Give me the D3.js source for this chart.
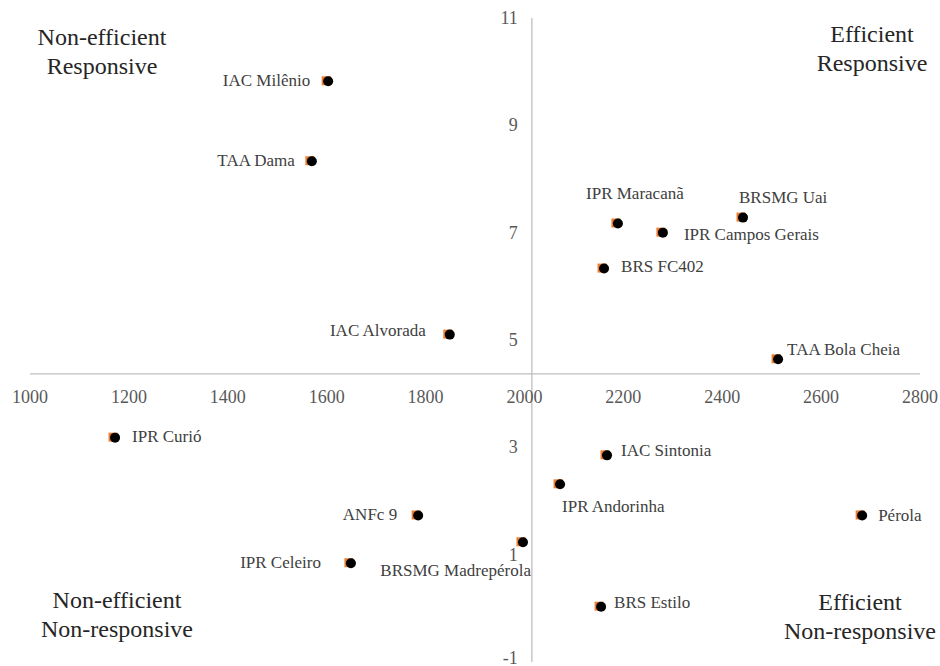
<!DOCTYPE html>
<html>
<head>
<meta charset="utf-8">
<script src="https://cdn.jsdelivr.net/npm/d3@7"></script>
<style>
  body { margin: 0; background: #fff; }
  .tick-label { font-size: 18px; fill: #595959; }
  .point-label { font-size: 17px; fill: #404040; }
  .quadrant { font-size: 24px; fill: #262626; }
</style>
</head>
<body>
<div id="chart"></div>
<script>
// cultivars, productivity (x) and response index (y)
const names = ["IAC Milênio", "TAA Dama", "IPR Maracanã", "BRSMG Uai", "IPR Campos Gerais",
  "BRS FC402", "IAC Alvorada", "TAA Bola Cheia", "IPR Curió", "IAC Sintonia",
  "IPR Andorinha", "ANFc 9", "Pérola", "IPR Celeiro", "BRSMG Madrepérola", "BRS Estilo"];
const xValues = [1601, 1568, 2187, 2440, 2278, 2159, 1847, 2511, 1170, 2165,
  2070, 1783, 2681, 1647, 1995, 2153];
const yValues = [9.83, 8.34, 7.18, 7.29, 7.01, 6.34, 5.11, 4.65, 3.19, 2.86,
  2.32, 1.74, 1.74, 0.85, 1.24, 0.04];

const xTicks = [1000, 1200, 1400, 1600, 1800, 2000, 2200, 2400, 2600, 2800];
const yTicks = [-1, 1, 3, 5, 7, 9, 11];

// where the axes cross (mean values)
const xCross = 2015;
const yCross = 4.37;

const quadrants = [
  {lines: ["Non-efficient", "Responsive"], x: 102, y: 45},
  {lines: ["Efficient", "Responsive"], x: 872, y: 42},
  {lines: ["Non-efficient", "Non-responsive"], x: 117, y: 608},
  {lines: ["Efficient", "Non-responsive"], x: 860, y: 610}
];

// label placement next to each marker: [dx, dy, anchor]
const labelPos = {
  "IAC Milênio": [-17, 5, "end"],
  "TAA Dama": [-16, 5, "end"],
  "IPR Maracanã": [18, -24, "middle"],
  "BRSMG Uai": [-3, -14, "start"],
  "IPR Campos Gerais": [22, 8, "start"],
  "BRS FC402": [18, 4, "start"],
  "IAC Alvorada": [-23, 2, "end"],
  "TAA Bola Cheia": [10, -4, "start"],
  "IPR Curió": [18, 5, "start"],
  "IAC Sintonia": [15, 1, "start"],
  "IPR Andorinha": [3, 28, "start"],
  "ANFc 9": [-20, 5, "end"],
  "Pérola": [17, 6, "start"],
  "IPR Celeiro": [-29, 5, "end"],
  "BRSMG Madrepérola": [9, 34, "end"],
  "BRS Estilo": [14, 2, "start"]
};

const width = 940, height = 666;

const svg = d3.select("#chart").append("svg")
  .attr("width", width)
  .attr("height", height)
  .attr("font-family", "'Liberation Serif', 'Times New Roman', Tinos, 'DejaVu Serif', serif");

const x = d3.scaleLinear().domain([1000, 2800]).range([30, 920]);
const y = d3.scaleLinear().domain([-1, 11]).range([662, 18]);

//axis lines
svg.append("line")
  .attr("x1", x(1000)).attr("x2", x(2800))
  .attr("y1", y(yCross)).attr("y2", y(yCross))
  .attr("stroke", "#bfbfbf").attr("stroke-width", 1.3);

svg.append("line")
  .attr("x1", x(xCross)).attr("x2", x(xCross))
  .attr("y1", y(11)).attr("y2", y(-1))
  .attr("stroke", "#bfbfbf").attr("stroke-width", 1.3);

//tick labels
svg.selectAll(".xtick")
  .data(xTicks)
  .enter().append("text")
  .attr("class", "tick-label")
  .attr("x", d => x(d))
  .attr("y", y(yCross) + 29)
  .attr("text-anchor", "middle")
  .text(d => d);

svg.selectAll(".ytick")
  .data(yTicks)
  .enter().append("text")
  .attr("class", "tick-label")
  .attr("x", x(xCross) - 14)
  .attr("y", d => y(d))
  .attr("dy", d => d == -1 ? "0.1em" : "0.33em")
  .attr("text-anchor", "end")
  .text(d => d);

//markers
const points = names.map((n, i) => ({name: n, x: xValues[i], y: yValues[i]}));

const g = svg.selectAll(".pt")
  .data(points)
  .enter().append("g")
  .attr("class", "pt")
  .attr("transform", d => `translate(${x(d.x)},${y(d.y)})`);

g.append("rect")
  .attr("x", -5.5).attr("y", -4.5)
  .attr("width", 9).attr("height", 9)
  .attr("fill", "#ed7d31");

g.append("circle")
  .attr("cx", 1).attr("cy", 0.5)
  .attr("r", 5)
  .attr("fill", "#000");

g.append("text")
  .attr("class", "point-label")
  .attr("x", d => labelPos[d.name][0])
  .attr("y", d => labelPos[d.name][1])
  .attr("text-anchor", d => labelPos[d.name][2])
  .text(d => d.name);

//quadrant notes
quadrants.forEach(q => {
  let t = svg.append("text")
    .attr("class", "quadrant")
    .attr("text-anchor", "middle");
  q.lines.forEach((l, i) => {
    t.append("tspan")
      .attr("x", q.x)
      .attr("y", q.y + i * 29)
      .text(l);
  });
});
</script>
</body>
</html>
